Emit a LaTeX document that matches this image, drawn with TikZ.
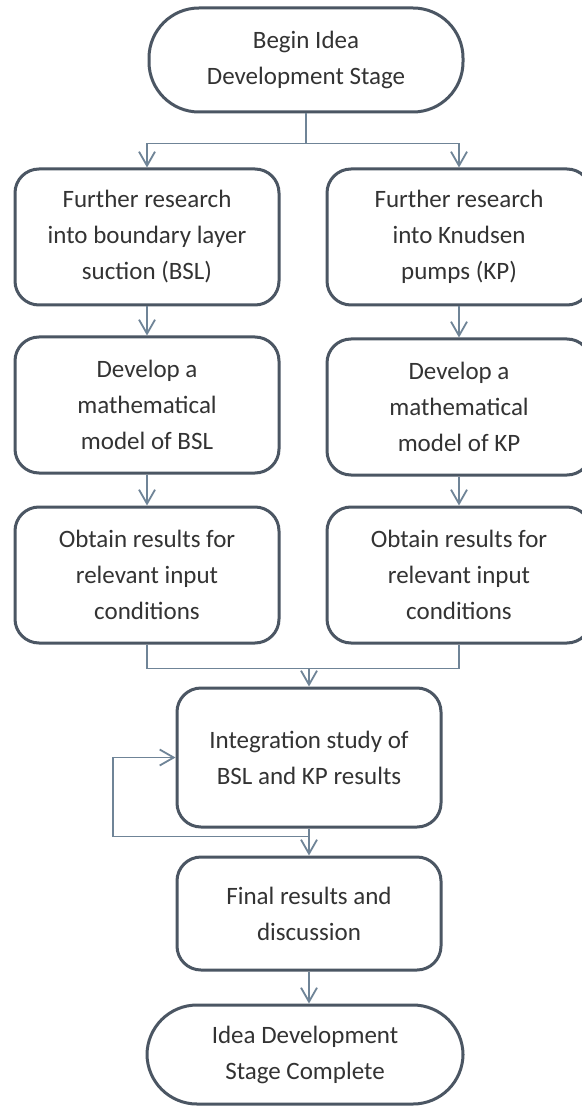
\documentclass[tikz,border=0pt]{standalone}
\usepackage{fontspec}
\setmainfont{Carlito}
\usepackage{xcolor}
\usetikzlibrary{arrows,arrows.meta,calc,positioning,shapes}
\definecolor{boxline}{HTML}{4B5663}
\definecolor{linkline}{HTML}{6F8497}
\definecolor{boxtext}{HTML}{333333}
\tikzset{%
	startstop/.style = {draw=boxline, line width=1.5pt, rectangle, rounded corners=25pt, minimum width=157pt, minimum height=51pt, text centered, align=center, text=boxtext, font=\fontsize{12.5}{18}\selectfont},
	process/.style   = {draw=boxline, line width=1.5pt, rectangle, rounded corners=12pt, minimum width=132pt, minimum height=68pt, text centered, align=center, text=boxtext, font=\fontsize{12.5}{18}\selectfont},
	link/.style      = {draw=linkline, line width=0.9pt},
	arrow/.style     = {link, -{Straight Barb[length=7pt,width=8pt]}},
}
\begin{document}
\begin{tikzpicture}[x=0.5pt,y=-0.5pt]
	\useasboundingbox (0,0) rectangle (582,1106);
	\clip (0,0) rectangle (582,1106);
	\fill[white] (0,0) rectangle (582,1106);
	% boxes
	\node[startstop, minimum height=52pt] (begin) at (306,60) {Begin Idea\\Development Stage};
	\node[process] (resBSL) at (147,237) {Further research\\into boundary layer\\suction (BSL)};
	\node[process] (resKP) at (459,237) {Further research\\into Knudsen\\pumps (KP)};
	\node[process] (modBSL) at (147,405) {Develop a\\mathematical\\model of BSL};
	\node[process] (modKP) at (459,407) {Develop a\\mathematical\\model of KP};
	\node[process] (outBSL) at (147,575) {Obtain results for\\relevant input\\conditions};
	\node[process] (outKP) at (459,575) {Obtain results for\\relevant input\\conditions};
	\node[process, minimum height=69.5pt] (integ) at (309,757.5) {Integration study of\\BSL and KP results};
	\node[process, minimum height=56.5pt] (final) at (309,913.5) {Final results and\\discussion};
	\node[startstop, minimum width=158pt, minimum height=49.5pt] (finish) at (305,1054.5) {Idea Development\\Stage Complete};
	% connectors
	\draw[link] (begin.south) -- ++(0,30) coordinate (split);
	\draw[arrow] (split) -| (resBSL.north);
	\draw[arrow] (split) -| (resKP.north);
	\draw[arrow] (resBSL) -- (modBSL);
	\draw[arrow] (resKP) -- (modKP);
	\draw[arrow] (modBSL) -- (outBSL);
	\draw[arrow] (modKP) -- (outKP);
	\draw[link] (outBSL.south) -- ++(0,24) coordinate (join) -| (outKP.south);
	\draw[arrow] (join -| integ.north) -- (integ.north);
	\draw[arrow] (integ) -- (final);
	\coordinate (loop) at ($(integ.south)+(0,8)$);
	\draw[arrow] (loop) -- ++(-196,0) |- (integ.west);  % repeat study
	\draw[arrow] (final.south) -- (final.south |- finish.north);
\end{tikzpicture}
\end{document}
